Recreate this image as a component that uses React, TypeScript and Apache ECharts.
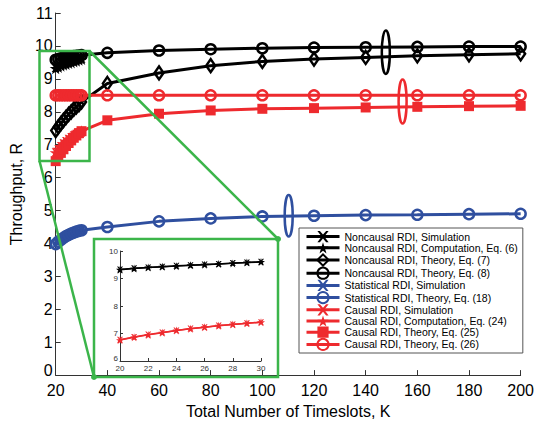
import React, { useEffect, useRef } from "react";
import * as echarts from "echarts";

// Data
const kDense = [20, 21, 22, 23, 24, 25, 26, 27, 28, 29, 30];
const kSparse = [40, 60, 80, 100, 120, 140, 160, 180, 200];
const kAll = kDense.concat(kSparse);

const ncSim = [9.33, 9.37, 9.4, 9.43, 9.46, 9.48, 9.51, 9.53, 9.56, 9.58, 9.61];
const ncComp = [9.32, 9.36, 9.4, 9.43, 9.45, 9.48, 9.5, 9.53, 9.55, 9.58, 9.6];
const ncEq7 = [7.43, 7.54, 7.64, 7.74, 7.83, 7.92, 8.0, 8.08, 8.15, 8.22, 8.3, 8.86, 9.18, 9.4, 9.53, 9.6, 9.65, 9.7, 9.73, 9.76];
const ncEq8 = [9.58, 9.6, 9.62, 9.64, 9.65, 9.67, 9.68, 9.69, 9.7, 9.71, 9.72, 9.79, 9.86, 9.9, 9.93, 9.95, 9.96, 9.97, 9.98, 9.98];
const stSim = [3.97, 4.04, 4.1, 4.16, 4.21, 4.25, 4.29, 4.32, 4.35, 4.37, 4.39];
const stEq18 = [3.98, 4.05, 4.11, 4.17, 4.22, 4.26, 4.3, 4.33, 4.36, 4.38, 4.4, 4.5, 4.67, 4.76, 4.82, 4.84, 4.86, 4.87, 4.89, 4.9];
const caSim = [6.77, 6.87, 6.96, 7.04, 7.11, 7.18, 7.23, 7.29, 7.33, 7.37, 7.41];
const caComp = [6.76, 6.86, 6.95, 7.03, 7.11, 7.17, 7.23, 7.28, 7.33, 7.37, 7.41];
const caEq25 = [6.5, 6.63, 6.75, 6.86, 6.96, 7.05, 7.13, 7.21, 7.28, 7.35, 7.41, 7.74, 7.94, 8.04, 8.09, 8.11, 8.13, 8.15, 8.17, 8.18];
const caEq26 = [8.5, 8.5, 8.5, 8.5, 8.5, 8.5, 8.5, 8.5, 8.5, 8.5, 8.5, 8.5, 8.5, 8.5, 8.5, 8.5, 8.5, 8.5, 8.5, 8.5];

const names = [
  "Noncausal RDI, Simulation",
  "Noncausal RDI, Computation, Eq. (6)",
  "Noncausal RDI, Theory, Eq. (7)",
  "Noncausal RDI, Theory, Eq. (8)",
  "Statistical RDI, Simulation",
  "Statistical RDI, Theory, Eq. (18)",
  "Causal RDI, Simulation",
  "Causal RDI, Computation, Eq. (24)",
  "Causal RDI, Theory, Eq. (25)",
  "Causal RDI, Theory, Eq. (26)",
];

const BLACK = "#000000";
const BLUE = "#2f4f9f";
const RED = "#ee2a2e";
const GREEN = "#3bb54a";
const FONT = "'Liberation Sans', Arial, Helvetica, sans-serif";

const X_SYM = "path://M0,0 L2.2,0 L5,3.2 L7.8,0 L10,0 L6.2,5 L10,10 L7.8,10 L5,6.8 L2.2,10 L0,10 L3.8,5 Z";
const STAR_SYM = "path://M5,0 L6.18,3.63 L10,3.63 L6.91,5.88 L8.09,9.51 L5,7.27 L1.91,9.51 L3.09,5.88 L0,3.63 L3.82,3.63 Z";

const pairs = (ks: number[], vs: number[]) => ks.map((k, i) => [k, vs[i]]);

function line(name: string, color: string, data: number[][], symbol: string, size: any, hollow: boolean, extra: any = {}) {
  return {
    type: "line",
    name,
    data,
    symbol,
    symbolSize: size,
    showSymbol: true,
    showAllSymbol: true,
    lineStyle: { color, width: 3 },
    itemStyle: hollow
      ? { color: "rgba(255,255,255,0)", borderColor: color, borderWidth: 2.5 }
      : { color, borderColor: color, borderWidth: 0 },
    emphasis: { disabled: true },
    ...extra,
  };
}

export default function App() {
  const ref = useRef<HTMLDivElement>(null);
  useEffect(() => {
    if (!ref.current) return;
    const chart = echarts.init(ref.current, undefined, { renderer: "svg" });
    const axisCommon = {
      axisLine: { show: true, lineStyle: { color: "#333", width: 1 } },
      axisTick: { show: true, inside: true, length: 5, lineStyle: { color: "#333" } },
      splitLine: { show: false },
    };
    const insetTick = { show: true, inside: true, length: 3, lineStyle: { color: "#333" } };
    const option: any = {
      animation: false,
      backgroundColor: "#fff",
      textStyle: { fontFamily: FONT },
      grid: [
        { left: 54, top: 13, width: 469, height: 368 },
        { left: 120, top: 251, width: 141, height: 110 },
      ],
      xAxis: [
        {
          type: "value",
          gridIndex: 0,
          min: 20,
          max: 200,
          interval: 20,
          name: "Total Number of Timeslots, K",
          nameLocation: "middle",
          nameGap: 25,
          nameTextStyle: { fontSize: 16, color: "#000", fontFamily: FONT },
          axisLabel: { fontSize: 16, color: "#000", margin: 7, fontFamily: FONT },
          ...axisCommon,
        },
        {
          type: "value",
          gridIndex: 1,
          min: 20,
          max: 30,
          interval: 2,
          axisLabel: { fontSize: 8, color: "#333", margin: 3, fontFamily: FONT },
          ...axisCommon,
          axisTick: insetTick,
        },
      ],
      yAxis: [
        {
          type: "value",
          gridIndex: 0,
          min: 0,
          max: 11,
          interval: 1,
          name: "Throughput, R",
          nameLocation: "middle",
          nameGap: 30,
          nameTextStyle: { fontSize: 16, color: "#000", fontFamily: FONT },
          axisLabel: {
            fontSize: 16,
            color: "#000",
            margin: 3,
            fontFamily: FONT,
            formatter: (v: number) => (v === 0 ? "{z|0}" : String(v)),
            rich: { z: { fontSize: 16, fontFamily: FONT, color: "#000", padding: [0, 0, 9, 0] } },
          },
          ...axisCommon,
        },
        {
          type: "value",
          gridIndex: 1,
          min: 6,
          max: 10,
          interval: 1,
          axisLabel: {
            fontSize: 8,
            color: "#333",
            margin: 2,
            fontFamily: FONT,
            formatter: (v: number) => (v === 6 ? "{z|6}" : String(v)),
            rich: { z: { fontSize: 8, fontFamily: FONT, color: "#333", padding: [0, 0, 6, 0] } },
          },
          ...axisCommon,
          axisTick: insetTick,
        },
      ],
      legend: {
        data: names,
        orient: "vertical",
        left: 299,
        top: 228,
        itemWidth: 33,
        itemHeight: 14,
        itemGap: 0,
        padding: [3, 5, 2, 6],
        backgroundColor: "#fff",
        borderColor: "#555",
        borderWidth: 1,
        lineStyle: { width: 3 },
        textStyle: { fontSize: 10.5, color: "#000", fontFamily: FONT },
        selectedMode: false,
        z: 20,
      },
      series: [
        line(names[0], BLACK, pairs(kDense, ncSim), X_SYM, 8, false),
        line(names[1], BLACK, pairs(kDense, ncComp), STAR_SYM, 12, false),
        line(names[2], BLACK, pairs(kAll, ncEq7), "diamond", [9, 13], true),
        line(names[3], BLACK, pairs(kAll, ncEq8), "circle", 10, true),
        line(names[4], BLUE, pairs(kDense, stSim), X_SYM, 8, false),
        line(names[5], BLUE, pairs(kAll, stEq18), "circle", 10, true),
        line(names[6], RED, pairs(kDense, caSim), X_SYM, 8, false),
        line(names[7], RED, pairs(kDense, caComp), STAR_SYM, 12, false),
        line(names[8], RED, pairs(kAll, caEq25), "rect", 10, false),
        line(names[9], RED, pairs(kAll, caEq26), "circle", 10, true),
        // inset
        {
          ...line("inset-nc-sim", BLACK, pairs(kDense, ncSim), X_SYM, 6, false),
          xAxisIndex: 1, yAxisIndex: 1, lineStyle: { color: BLACK, width: 1.5 },
        },
        {
          ...line("inset-nc-comp", BLACK, pairs(kDense, ncComp), STAR_SYM, 8, false),
          xAxisIndex: 1, yAxisIndex: 1, lineStyle: { color: BLACK, width: 1.5 },
        },
        {
          ...line("inset-ca-sim", RED, pairs(kDense, caSim), X_SYM, 6, false),
          xAxisIndex: 1, yAxisIndex: 1, lineStyle: { color: RED, width: 1.5 },
        },
        {
          ...line("inset-ca-comp", RED, pairs(kDense, caComp), STAR_SYM, 8, false),
          xAxisIndex: 1, yAxisIndex: 1, lineStyle: { color: RED, width: 1.5 },
        },
      ],
    };
    chart.setOption(option);

    const toPx = (x: number, y: number) =>
      chart.convertToPixel({ xAxisIndex: 0, yAxisIndex: 0 }, [x, y]) as number[];
    const ell = (x: number, y: number, dy: number, color: string) => {
      const c = toPx(x, y);
      const t = toPx(x, y + dy);
      return {
        type: "ellipse",
        z: 50,
        shape: { cx: c[0], cy: c[1], rx: 4, ry: Math.abs(c[1] - t[1]) },
        style: { fill: "none", stroke: color, lineWidth: 2.5 },
      };
    };
    const gs = { stroke: GREEN, lineWidth: 2.5 };
    chart.setOption({
      graphic: [
        ell(147.8, 9.81, 0.66, BLACK),
        ell(154.3, 8.31, 0.67, RED),
        ell(110.2, 4.84, 0.63, BLUE),
        { type: "rect", z: 60, shape: { x: 39.5, y: 51, width: 50, height: 110 }, style: { fill: "none", ...gs } },
        { type: "rect", z: 60, shape: { x: 94, y: 239, width: 184, height: 138 }, style: { fill: "none", ...gs } },
        { type: "line", z: 60, shape: { x1: 89.5, y1: 51, x2: 278, y2: 239 }, style: { ...gs } },
        { type: "line", z: 60, shape: { x1: 39.5, y1: 161, x2: 94, y2: 377 }, style: { ...gs } },
        { type: "circle", z: 61, shape: { cx: 278, cy: 239, r: 3 }, style: { fill: GREEN } },
        { type: "circle", z: 61, shape: { cx: 94, cy: 377, r: 3 }, style: { fill: GREEN } },
      ],
    });
    return () => chart.dispose();
  }, []);
  return <div ref={ref} style={{ position: "absolute", left: 0, top: 0, width: 537, height: 424 }} />;
}
